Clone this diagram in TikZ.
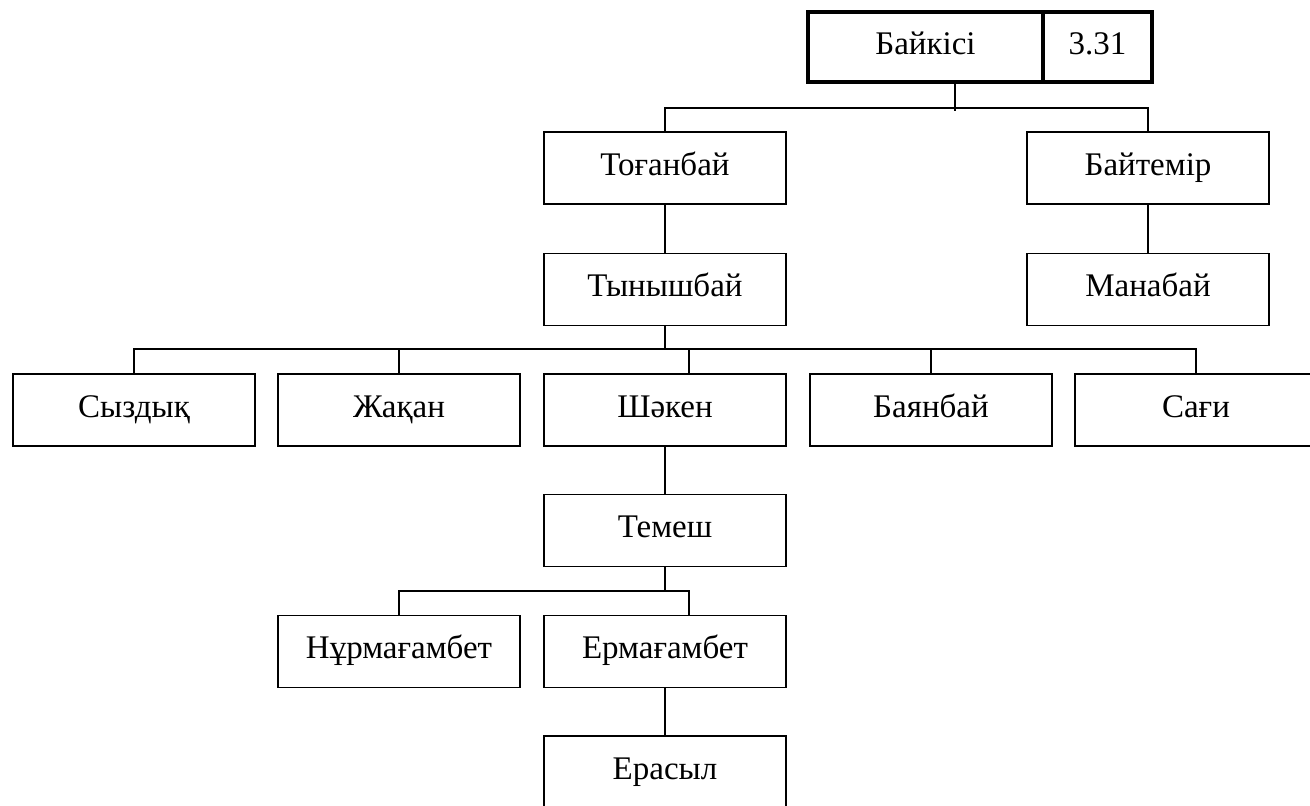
\documentclass[tikz,border=0pt]{standalone}
\usepackage{fontspec}
\setmainfont{Liberation Serif}
\usetikzlibrary{positioning}

\begin{document}
\begin{tikzpicture}[
				x=1pt,y=-1pt,
				person/.style={
					rectangle,
					draw=black,
					line width=1.4pt,
					minimum width=242pt,
					minimum height=72pt,
					inner sep=0pt,
					text height=22pt,
					text depth=8pt,
					align=center,
					font=\fontsize{33}{38}\selectfont
				},
				rootbox/.style={
					person,
					line width=3.8pt,
					minimum height=70pt
				},
				link/.style={line width=1.8pt,draw=black}
				]
				\useasboundingbox (0,0) rectangle (1310,806);
				\node[rootbox, minimum width=235pt] (baikisi) at (925.5,47) {Байкісі};
				\node[rootbox, minimum width=109pt] (code) at (1097.5,47) {3.31};
				\node[person] (toganbai) at (665,168) {Тоғанбай};
				\node[person] (baytemir) at (1148,168) {Байтемір};
				\node[person] (tynyshbai) at (665,289.5) {Тынышбай};
				\node[person] (manabai) at (1148,289.5) {Манабай};
				\node[person] (syzdyq) at (134,410) {Сыздық};
				\node[person] (zhaqan) at (399,410) {Жақан};
				\node[person] (shaken) at (665,410) {Шәкен};
				\node[person] (bayanbai) at (931,410) {Баянбай};
				\node[person] (sagi) at (1196,410) {Сағи};
				\node[person] (temesh) at (665,530.5) {Темеш};
				\node[person] (nurmagambet) at (399,651.5) {Нұрмағамбет};
				\node[person] (ermagambet) at (665,651.5) {Ермағамбет};
				\node[person] (erasyl) at (665,772) {Ерасыл};
				
				\draw[link] ([xshift=29.5pt]baikisi.south) -- ++(0,27);
				\draw[link] (toganbai.north) -- ++(0,-23) -| (baytemir.north);
				\draw[link] (toganbai) -- (tynyshbai);
				\draw[link] (baytemir) -- (manabai);
				\draw[link] (tynyshbai.south) -- ++(0,24);
				\draw[link] (syzdyq.north) -- ++(0,-24) -| (sagi.north);
				\draw[link] (zhaqan.north) -- ++(0,-24);
				\draw[link] ([xshift=24pt]shaken.north) -- ++(0,-24);
				\draw[link] (bayanbai.north) -- ++(0,-24);
				\draw[link] (shaken) -- (temesh);
				\draw[link] (temesh.south) -- ++(0,25);
				\draw[link] (nurmagambet.north) -- ++(0,-24) -| ([xshift=24pt]ermagambet.north);
				\draw[link] (ermagambet) -- (erasyl);
		\end{tikzpicture}
\end{document}
